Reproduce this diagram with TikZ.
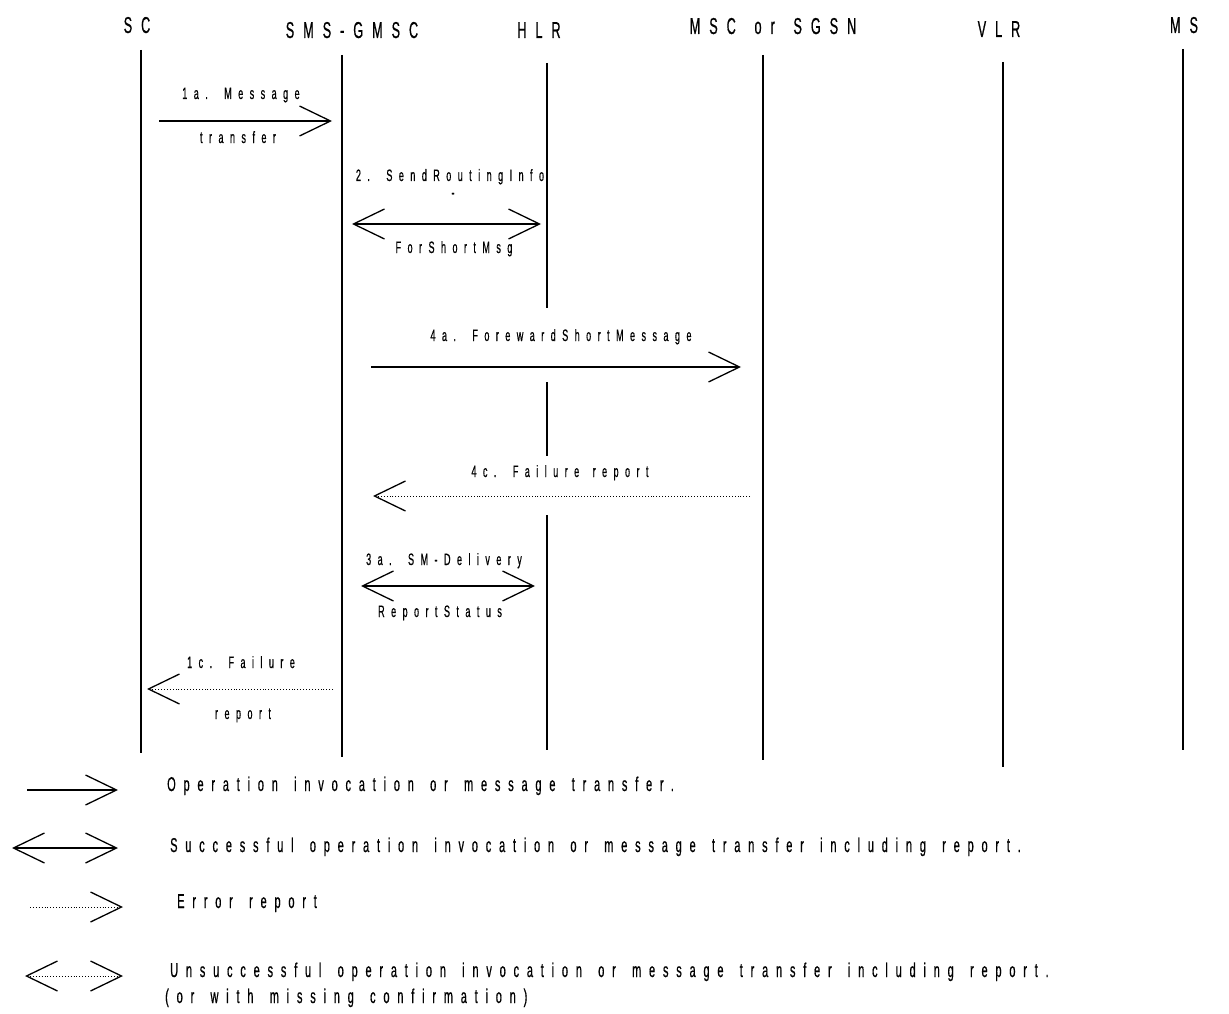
\documentclass[tikz,border=0pt]{standalone}
\usepackage{fontspec}
\newfontfamily\narrowfont{Liberation Sans}[FakeStretch=0.55,FakeBold=0.6,LetterSpace=39,WordSpace=1.5]
\usetikzlibrary{arrows.meta}

\begin{document}
\begin{tikzpicture}[x=1pt,y=-1pt,
    >={Straight Barb[length=31pt,width=30pt,line width=1.3pt]},
    lifeline/.style={line width=1.6pt},
    message/.style={line width=1.3pt},
    failure/.style={line width=0.9pt,dotted},
    actor/.style={font=\narrowfont\fontsize{23}{26}\selectfont,anchor=base,inner sep=0pt},
    msgtext/.style={font=\narrowfont\fontsize{16.5}{19}\selectfont,anchor=base,inner sep=0pt},
    keytext/.style={font=\narrowfont\fontsize{20}{24}\selectfont,anchor=base west,inner sep=0pt}]
  \useasboundingbox (0,0) rectangle (1229,1014);

  \node[actor] (sc) at (137,33) {SC};
  \node[actor] (gmsc) at (352,38) {SMS-GMSC};
  \node[actor] (hlr) at (539,38) {HLR};
  \node[actor] (msc) at (773,34) {MSC or SGSN};
  \node[actor] (vlr) at (999,37) {VLR};
  \node[actor] (ms) at (1184,33) {MS};

  \draw[lifeline] (141,50) -- (141,753);
  \draw[lifeline] (342,55) -- (342,757);
  \draw[lifeline] (547,63) -- (547,308) (547,382) -- (547,456) (547,515) -- (547,750);
  \draw[lifeline] (763,55) -- (763,760);
  \draw[lifeline] (1003,62) -- (1003,767);
  \draw[lifeline] (1183,49) -- (1183,750);

  \coordinate (sc1) at (159,121);
  \coordinate (gmsc1) at (332,121);
  \draw[message,->] (sc1) -- (gmsc1);
  \node[msgtext] (msg1a) at (241,99) {1a. Message};
  \node[msgtext] (msg1b) at (238,143) {transfer};

  \coordinate (gmsc2) at (352,224);
  \coordinate (hlr2) at (541,224);
  \draw[message,<->] (gmsc2) -- (hlr2);
  \node[msgtext] (msg2a) at (450,181) {2. SendRoutingInfo};
  \node[msgtext] (msg2b) at (453,198) {-};
  \node[msgtext] (msg2c) at (454,253) {ForShortMsg};

  \coordinate (gmsc4) at (371,367);
  \coordinate (msc4) at (741,367);
  \draw[message,->] (gmsc4) -- (msc4);
  \node[msgtext] (msg4a) at (561,341) {4a. ForewardShortMessage};

  \coordinate (msc5) at (750,496);
  \coordinate (gmsc5) at (373,496);
  \draw[failure,->] (msc5) -- (gmsc5);
  \node[msgtext] (msg4c) at (560,477) {4c. Failure report};

  \coordinate (gmsc3) at (361,586);
  \coordinate (hlr3) at (535,586);
  \draw[message,<->] (gmsc3) -- (hlr3);
  \node[msgtext] (msg3a) at (444,565) {3a. SM-Delivery};
  \node[msgtext] (msg3b) at (440,617) {ReportStatus};

  \coordinate (gmsc6) at (333,689);
  \coordinate (sc6) at (147,689);
  \draw[failure,->] (gmsc6) -- (sc6);
  \node[msgtext] (msg1c) at (241,668) {1c. Failure};
  \node[msgtext] (msg1d) at (243,719) {report};

  \coordinate (k1a) at (27,790);
  \coordinate (k1b) at (118,790);
  \draw[message,->] (k1a) -- (k1b);
  \node[keytext] (key1) at (167,791) {Operation invocation or message transfer.};

  \coordinate (k2a) at (12,848);
  \coordinate (k2b) at (118,848);
  \draw[message,<->] (k2a) -- (k2b);
  \node[keytext] (key2) at (170,852) {Successful operation invocation or message transfer including report.};

  \coordinate (k3a) at (30,907);
  \coordinate (k3b) at (123,907);
  \draw[failure,->] (k3a) -- (k3b);
  \node[keytext] (key3) at (177,908) {Error report};

  \coordinate (k4a) at (25,976);
  \coordinate (k4b) at (123,976);
  \draw[failure,<->] (k4a) -- (k4b);
  \node[keytext] (key4) at (170,977) {Unsuccessful operation invocation or message transfer including report.};
  \node[keytext] (key5) at (165,1003) {(or with missing confirmation)};
\end{tikzpicture}
\end{document}
